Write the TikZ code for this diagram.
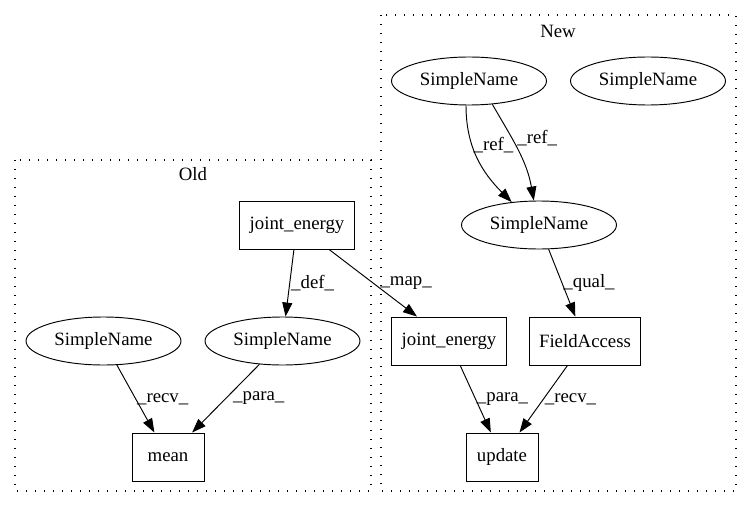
\documentclass[tikz,border=0pt]{standalone}
\usepackage{fontspec}
\setmainfont{Liberation Serif}
\usetikzlibrary{arrows.meta,shapes.geometric}
\begin{document}
\begin{tikzpicture}[x=1pt,y=-1pt,
    font=\fontsize{18.8}{22}\selectfont,
    sname/.style={draw, ellipse, minimum width=155pt, minimum height=48pt, inner sep=0pt, line width=0.95pt},
    tbox/.style={draw, rectangle, minimum width=72pt, minimum height=48pt, inner xsep=10pt, line width=0.95pt},
    flow/.style={-{Triangle[length=14pt,width=10pt]}, line width=0.95pt},
    lbl/.style={inner sep=1pt, anchor=west},
    cluster/.style={line width=1.4pt, dash pattern=on 1.4pt off 7.6pt}]
  \useasboundingbox (0,0) rectangle (752,508);
  % clusters
  \draw[cluster] (15,160) rectangle (371,491);
  \draw[cluster] (381,15) rectangle (736,491);
  \node (oldlbl) at (193,174) {Old};
  \node (newlbl) at (558,31) {New};
  % new
  \node[sname] (snref) at (469,81) {SimpleName};
  \node[sname] (snlone) at (648,81) {SimpleName};
  \node[sname] (snqual) at (539,225) {SimpleName};
  \node[tbox] (jenew) at (449,341) {joint\_energy};
  \node[tbox] (facc) at (585,341) {FieldAccess};
  \node[tbox] (upd) at (502,457) {update};
  % old
  \node[tbox] (jeold) at (297,225) {joint\_energy};
  \node[sname] (snrecv) at (103.5,341) {SimpleName};
  \node[sname] (snpara) at (282.5,341) {SimpleName};
  \node[tbox] (mean) at (168,457) {mean};
  % edges
  \draw[flow] (snref.-97) to[out=-90, in=135] node[lbl, pos=0.36] {\_ref\_} (snqual.140);
  \draw[flow] (snref.-45) to[out=-60, in=100] node[lbl, pos=0.36, xshift=4pt] {\_ref\_} (snqual.102);
  \draw[flow] (snqual) -- (facc) node[lbl, midway] {\_qual\_};
  \draw[flow] (jenew) -- (upd) node[lbl, midway] {\_para\_};
  \draw[flow] (facc) -- (upd) node[lbl, midway] {\_recv\_};
  \draw[flow] (jeold) -- (snpara) node[lbl, midway] {\_def\_};
  \draw[flow] (jeold) -- (jenew) node[lbl, midway, xshift=6pt] {\_map\_};
  \draw[flow] (snrecv) -- (mean) node[lbl, midway] {\_recv\_};
  \draw[flow] (snpara) -- (mean) node[lbl, midway, xshift=6pt] {\_para\_};
\end{tikzpicture}
\end{document}
